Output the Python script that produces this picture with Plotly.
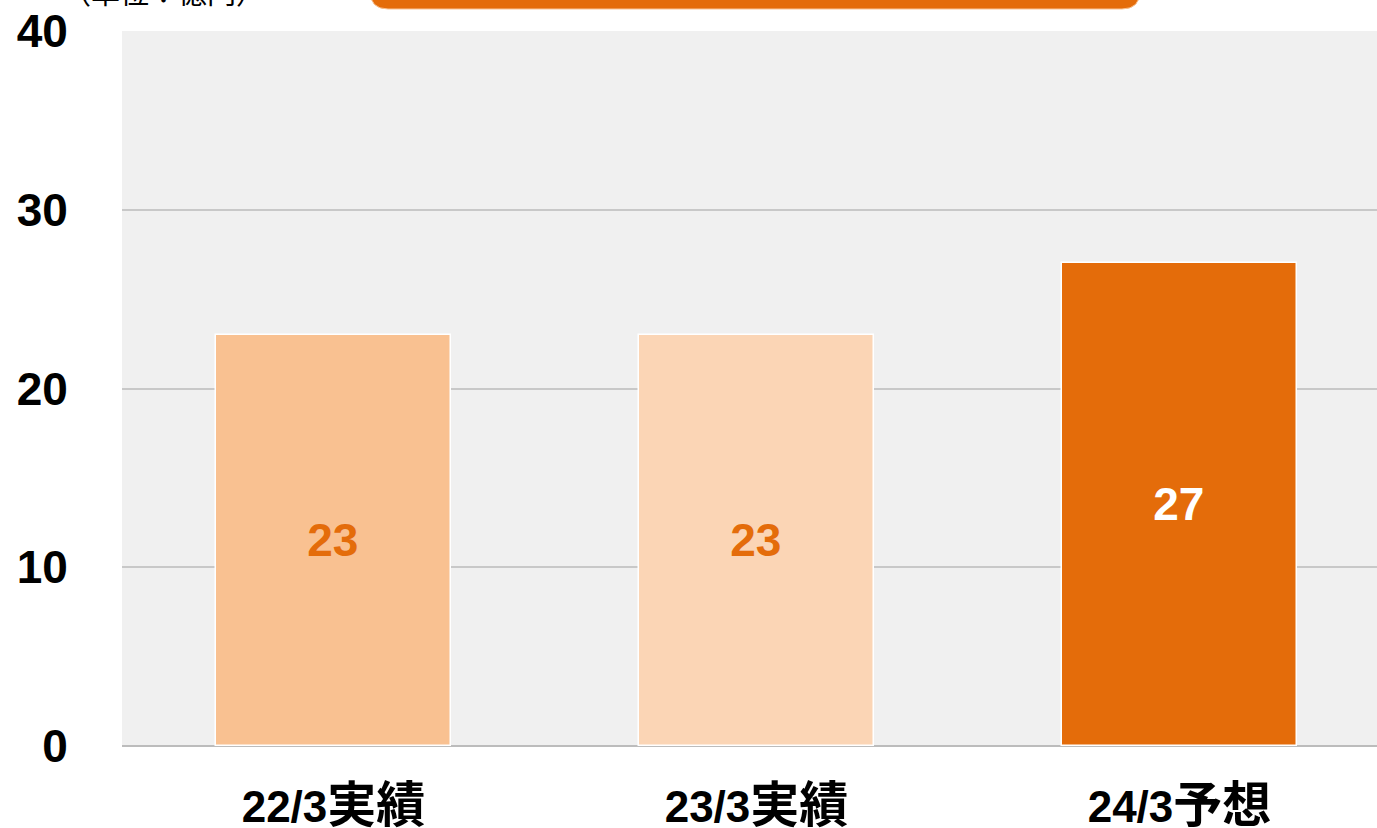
import plotly.graph_objects as go

categories = ["22/3実績", "23/3実績", "24/3予想"]
values = [23, 23, 27]
bar_colors = ["#f9c191", "#fbd5b5", "#e46c0a"]
label_colors = ["#e46c0a", "#e46c0a", "#ffffff"]
y_ticks = [0, 10, 20, 30, 40]

W, H = 1377, 828
L, R, T, B = 122, 0, 31, 82
pw, ph = W - L - R, H - T - B

def px_to_paper(x, y):
    return (x - L) / pw, (H - B - y) / ph

# rounded orange box at the top (partially outside view)
x0, x1, ytop, ybot, r = 370, 1140, -40, 9, 18
def P(x, y):
    a, b = px_to_paper(x, y)
    return f"{a:.5f},{b:.5f}"
path = (f"M {P(x0, ytop)} L {P(x0, ybot - r)} Q {P(x0, ybot)} {P(x0 + r, ybot)} "
        f"L {P(x1 - r, ybot)} Q {P(x1, ybot)} {P(x1, ybot - r)} L {P(x1, ytop)} Z")

font_main = "Liberation Sans, Arial, Noto Sans CJK JP, sans-serif"

def tick_label(c):
    # digits part in Arial-like font, CJK part slightly larger
    i = next(k for k, ch in enumerate(c) if ord(ch) > 255)
    return c[:i] + f'<span style="font-size:49px;font-family:Noto Sans CJK JP">{c[i:]}</span>'

fig = go.Figure()
fig.add_trace(go.Bar(
    x=categories, y=values,
    marker=dict(color=bar_colors, line=dict(color="#ffffff", width=1.5)),
    width=0.556,
    text=[str(v) for v in values],
    textposition="inside",
    insidetextanchor="middle",
    textfont=dict(family=font_main, size=46, color=label_colors, weight="bold"),
    hoverinfo="skip",
))

fig.update_layout(
    width=W, height=H,
    margin=dict(l=L, r=R, t=T, b=B, pad=0, autoexpand=False),
    paper_bgcolor="#ffffff",
    plot_bgcolor="#f0f0f0",
    showlegend=False,
    bargap=0,
    xaxis=dict(
        range=[-0.5, -0.5 + pw / 423.0],
        tickvals=categories,
        ticktext=[tick_label(c) for c in categories],
        tickfont=dict(family=font_main, size=44, color="#000000", weight="bold"),
        ticks="outside", ticklen=22, tickcolor="rgba(0,0,0,0)",
        showgrid=False, zeroline=False, showline=False,
        automargin=False, fixedrange=True,
    ),
    yaxis=dict(
        range=[0, 40],
        tickvals=y_ticks,
        tickfont=dict(family=font_main, size=46, color="#000000", weight="bold"),
        ticks="outside", ticklen=44, tickcolor="rgba(0,0,0,0)",
        showgrid=True, gridcolor="#c8c8c8", gridwidth=1.5,
        zeroline=True, zerolinecolor="#bcbcbc", zerolinewidth=2,
        showline=False,
        automargin=False, fixedrange=True,
    ),
    shapes=[dict(type="path", xref="paper", yref="paper", path=path,
                 fillcolor="#e46c0a", line=dict(color="#f9c191", width=1), layer="above")],
    annotations=[dict(text="（単位：億円）", xref="paper", yref="paper",
                      x=px_to_paper(60, 0)[0], y=px_to_paper(0, 14)[1],
                      xanchor="left", yanchor="bottom", showarrow=False,
                      font=dict(family="Noto Sans CJK JP", size=29, color="#000000"))],
)

fig.write_html("out.html", config={"displayModeBar": False},
               post_script="document.body.style.margin='0';document.body.style.overflow='hidden';")
